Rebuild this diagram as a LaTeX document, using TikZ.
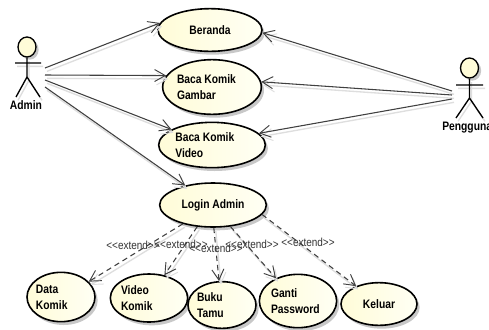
\documentclass[tikz,border=0pt]{standalone}
\usepackage{fontspec}
\setmainfont{Liberation Sans}
\newfontfamily\ucfont[FakeStretch=0.84]{Liberation Sans Bold}
\newfontfamily\extfont[FakeStretch=0.86]{Liberation Sans}
\usetikzlibrary{arrows.meta,shapes.geometric,shadows}
\definecolor{ucleft}{HTML}{FFFCD8}
\definecolor{ucright}{HTML}{FFFFF4}
\tikzset{
  x=0.75pt,y=-0.75pt,
  softshadow/.style={preaction={draw=black!13,line width=1pt,transform canvas={xshift=1.5pt,yshift=-2.5pt}}},
  usecase/.style={ellipse,draw=black,line width=1.2pt,left color=ucleft,right color=ucright,inner ysep=0pt,inner xsep=-4pt,
    font=\ucfont\fontsize{9.2}{12}\selectfont,align=flush left,
    drop shadow={shadow xshift=2pt,shadow yshift=-2.5pt,fill=black!30,opacity=.7}},
  actorlabel/.style={font=\ucfont\fontsize{9.2}{10}\selectfont,inner sep=0pt},
  actorhead/.style={ellipse,draw=black,line width=1pt,fill=ucleft,inner sep=0pt,minimum width=13.5pt,minimum height=15pt,
    drop shadow={shadow xshift=2pt,shadow yshift=-2pt,fill=black!30,opacity=.7}},
  limb/.style={draw=black,line width=1pt,softshadow},
  assoc/.style={draw=black!75,line width=.8pt,softshadow,-{Straight Barb[length=8pt,width=9pt,line width=.7pt]}},
  ext/.style={assoc,dash pattern=on 4pt off 3pt},
  extlabel/.style={font=\extfont\fontsize{8.7}{9}\selectfont,text=black!80,inner sep=0pt},
}
\newcommand{\ext}{{<}{<}extend{>}{>}}
\begin{document}
\begin{tikzpicture}
\clip (0,0) rectangle (489,329);
\useasboundingbox (0,0) rectangle (489,329);
\fill[white] (0,0) rectangle (489,329);
% use cases
\node[usecase,minimum width=78pt,minimum height=32pt] (beranda) at (210,30) {Beranda};
\node[usecase,minimum width=74pt,minimum height=41pt,text width=52.5pt] (gambar) at (212,87) {Baca Komik\\Gambar};
\node[usecase,minimum width=80pt,minimum height=34pt,text width=55pt] (video) at (212,145) {Baca Komik\\Video};
\node[usecase,minimum width=80pt,minimum height=33pt] (login) at (213,205) {Login Admin};
\node[usecase,minimum width=51pt,minimum height=37pt,text width=37.5pt] (data) at (61,297) {Data\\Komik};
\node[usecase,minimum width=58pt,minimum height=36pt,text width=42pt] (vkomik) at (149,298) {Video\\Komik};
\node[usecase,minimum width=51pt,minimum height=35pt,text width=37.5pt] (buku) at (222,305) {Buku\\Tamu};
\node[usecase,minimum width=58pt,minimum height=40pt,text width=40.5pt] (ganti) at (298,301) {Ganti\\Password};
\node[usecase,minimum width=57pt,minimum height=32pt] (keluar) at (379,304) {Keluar};
% Admin actor
\node[actorhead] (adminhead) at (27,47) {};
\coordinate (adminhip) at (27,77);
\coordinate (adminl) at (15,63);
\coordinate (adminr) at (41,63);
\coordinate (adminfl) at (16,97);
\coordinate (adminfr) at (40,97);
\path[limb] (adminhead) -- (adminhip) -- (adminfl) (adminhip) -- (adminfr) (adminl) -- (adminr);
\node[actorlabel] (admin) at (26,105) {Admin};
% Pengguna actor
\node[actorhead] (pengguna) at (469.5,68) {};
\coordinate (penghip) at (469.5,98);
\coordinate (pengl) at (456,85);
\coordinate (pengr) at (483,85);
\coordinate (pengfl) at (456,118);
\coordinate (pengfr) at (483,118);
\path[limb] (pengguna) -- (penghip) -- (pengfl) (penghip) -- (pengfr) (pengl) -- (pengr);
\node[actorlabel,anchor=west] (penglabel) at (442,128) {Pengguna};
% free ends
\coordinate (a1) at (45,68);
\coordinate (a2) at (45,75);
\coordinate (a3) at (45,80);
\coordinate (a4) at (45,87);
\coordinate (p1) at (452,91);
\coordinate (p2) at (452,95);
\coordinate (p3) at (452,99);
% associations
\draw[assoc] (a1) -- (beranda.172);
\draw[assoc] (a2) -- (gambar.166);
\draw[assoc] (a3) -- (video.159);
\draw[assoc] (a4) -- (login.145);
\draw[assoc] (p1) -- (beranda.-3);
\draw[assoc] (p2) -- (gambar.6);
\draw[assoc] (p3) -- (video.14);
% extends
\draw[ext] (login.-148) -- (data.29);
\draw[ext] (login.-126) -- (vkomik.56);
\draw[ext] (login.-88) -- (buku.97);
\draw[ext] (login.-51) -- (ganti.134);
\draw[ext] (login.-11) -- (keluar.142);
\node[extlabel] (e1) at (133,245) {\ext};
\node[extlabel] (e2) at (181,244) {\ext};
\node[extlabel] (e3) at (216,248) {\ext};
\node[extlabel] (e4) at (252,244) {\ext};
\node[extlabel] (e5) at (308,242) {\ext};
\end{tikzpicture}
\end{document}
